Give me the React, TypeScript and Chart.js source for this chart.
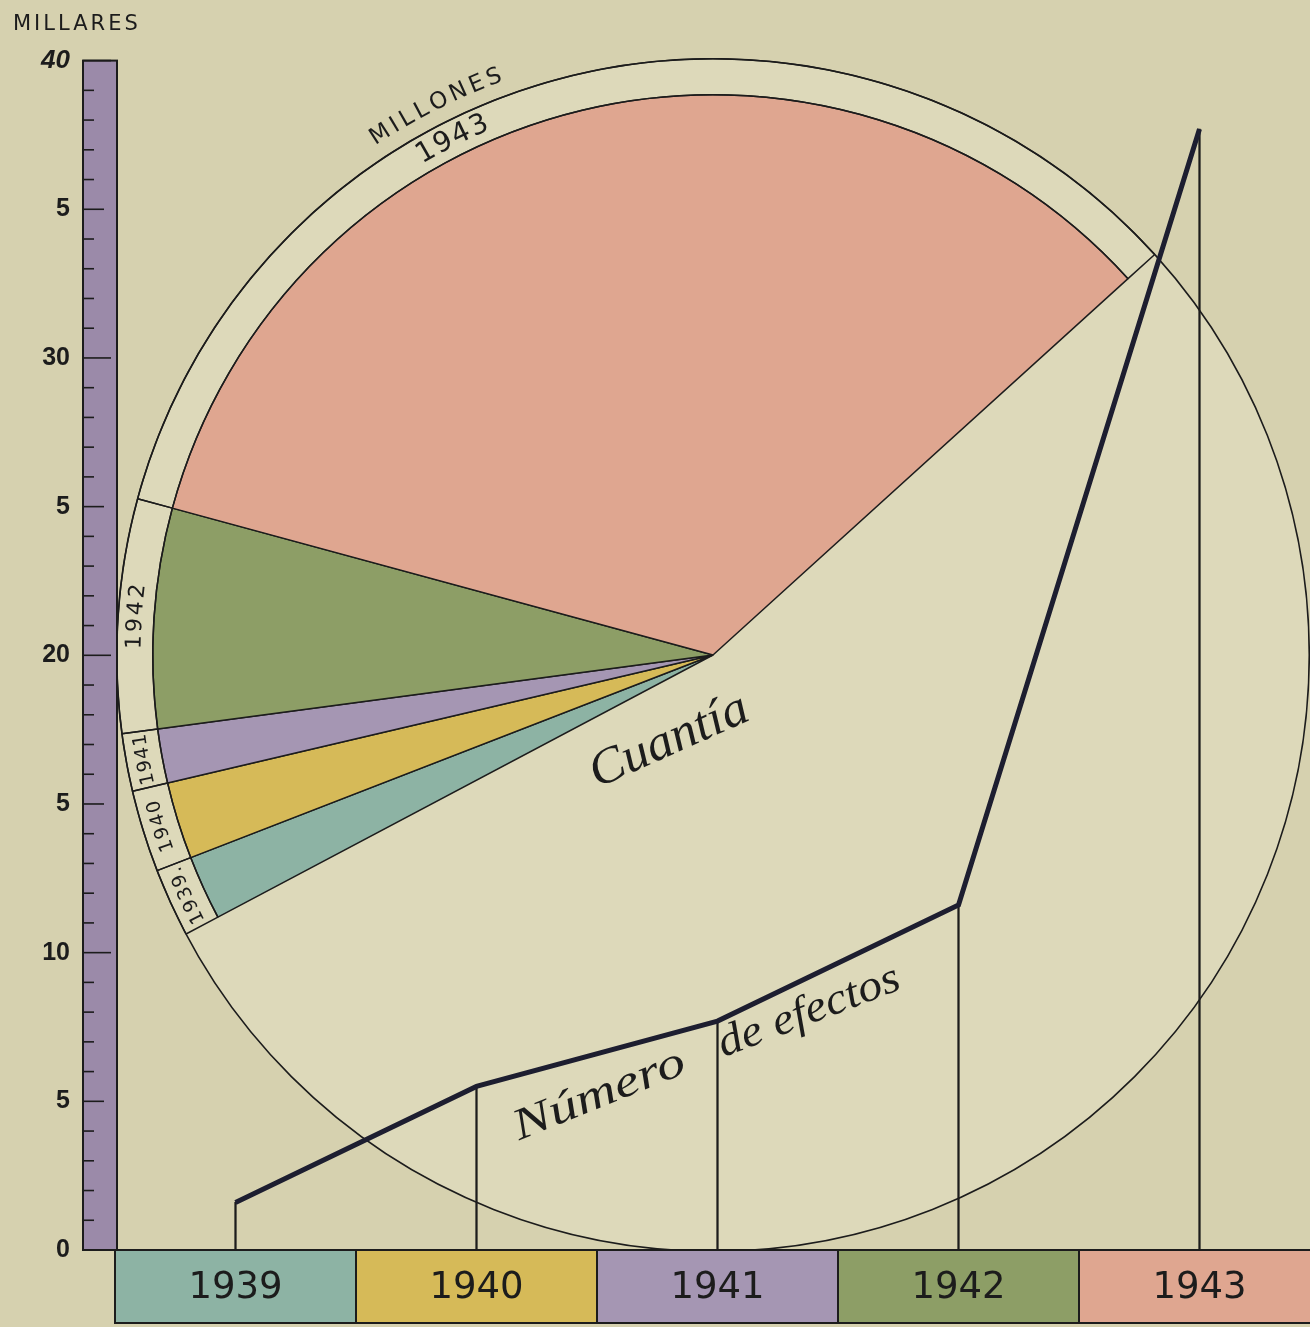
import React, { useEffect, useRef } from 'react';
import { Chart, registerables } from 'chart.js';

Chart.register(...registerables);

// ---- data ----
const years = ['1939', '1940', '1941', '1942', '1943'];
const numeroEfectos = [1.6, 5.5, 7.7, 11.6, 37.7]; // millares
const cuantia = [6.7, 8.0, 5.6, 22.8, 122.6]; // sector sizes (Cuantía, millones)
const cuantiaResto = 194.3;
const ringLabels = ['1939.', '1940', '1941', '1942', '1943'];
const yTicks = [0, 5, 10, 15, 20, 25, 30, 35, 40];
const yTickText = ['0', '5', '10', '5', '20', '5', '30', '5', '40'];

// ---- styles ----
const yearColors = ['#8db3a4', '#d6ba58', '#a596b3', '#8d9e66', '#dfa690'];
const PAPER = '#d6d1af';
const INK = '#1c1c1c';
const AXIS_PURPLE = '#9b8aa9';
const LINE_INK = '#1d1e30';
const ringFontSizes = [19, 19, 19, 22, 28];
const ringSpacing = [1.5, 1.5, 1, 3, 2];
const ringAngleShift = [0, 0, 0, 0, -13.3];

function arcText(ctx: CanvasRenderingContext2D, text: string, cx: number, cy: number, r: number, ang: number, font: string, spacing: number) {
  ctx.save();
  ctx.font = font;
  ctx.fillStyle = INK;
  ctx.textAlign = 'center';
  ctx.textBaseline = 'middle';
  const chars = Array.from(text);
  const widths = chars.map((ch) => ctx.measureText(ch).width);
  const total = widths.reduce((s, w) => s + w, 0) + spacing * (chars.length - 1);
  let a = ang - total / (2 * r);
  chars.forEach((ch, i) => {
    const ca = a + widths[i] / 2 / r;
    ctx.save();
    ctx.translate(cx + r * Math.cos(ca), cy + r * Math.sin(ca));
    ctx.rotate(ca + Math.PI / 2);
    ctx.fillText(ch, 0, 0);
    ctx.restore();
    a += (widths[i] + spacing) / r;
  });
  ctx.restore();
}

function scriptText(ctx: CanvasRenderingContext2D, text: string, x: number, y: number, deg: number, size: number, sx: number) {
  ctx.save();
  ctx.translate(x, y);
  ctx.rotate((deg * Math.PI) / 180);
  ctx.scale(sx, 1);
  ctx.font = `italic ${size}px "Liberation Serif"`;
  ctx.fillStyle = INK;
  ctx.textAlign = 'center';
  ctx.textBaseline = 'middle';
  ctx.fillText(text, 0, 0);
  ctx.restore();
}

const ringPlugin = {
  id: 'ringPlugin',
  beforeDatasetsDraw(chart: any) {
    const meta = chart.getDatasetMeta(0);
    const arc = meta.data[0];
    if (!arc) return;
    const p = arc.getProps(['x', 'y', 'outerRadius'], true);
    const ctx = chart.ctx;
    ctx.save();
    ctx.beginPath();
    ctx.arc(p.x, p.y, p.outerRadius, 0, Math.PI * 2);
    ctx.fillStyle = 'rgba(240,236,212,0.3)';
    ctx.fill();
    ctx.restore();
  },
  afterDatasetsDraw(chart: any) {
    const ctx = chart.ctx;
    const meta = chart.getDatasetMeta(0);
    let cx = 0, cy = 0, outer = 0, labelAng = 0;
    meta.data.forEach((arc: any, i: number) => {
      const p = arc.getProps(['x', 'y', 'startAngle', 'endAngle', 'innerRadius', 'outerRadius'], true);
      cx = p.x; cy = p.y; outer = p.outerRadius;
      if (i >= ringLabels.length) return;
      const mid = (p.startAngle + p.endAngle) / 2 + (ringAngleShift[i] * Math.PI) / 180;
      if (i === ringLabels.length - 1) labelAng = mid;
      arcText(ctx, ringLabels[i], p.x, p.y, (p.innerRadius + p.outerRadius) / 2, mid, `${ringFontSizes[i]}px "DejaVu Sans"`, ringSpacing[i]);
    });
    ctx.save();
    ctx.beginPath();
    ctx.arc(cx, cy, outer, 0, Math.PI * 2);
    ctx.strokeStyle = INK;
    ctx.lineWidth = 1.6;
    ctx.stroke();
    ctx.restore();
    arcText(ctx, 'MILLONES', cx, cy, outer + 21, labelAng, '23px "DejaVu Sans"', 4);
  },
};

const framePlugin = {
  id: 'framePlugin',
  beforeDraw(chart: any) {
    const { ctx, chartArea: a, scales } = chart;
    const x = scales.x;
    const y = scales.y;
    ctx.save();
    ctx.strokeStyle = INK;
    ctx.lineWidth = 2;
    const half = (x.getPixelForValue(1) - x.getPixelForValue(0)) / 2;
    years.forEach((_, i) => {
      const c = x.getPixelForValue(i);
      ctx.fillStyle = yearColors[i];
      ctx.fillRect(c - half, a.bottom, half * 2, x.bottom - a.bottom);
      ctx.strokeRect(c - half, a.bottom, half * 2, x.bottom - a.bottom);
    });
    const bl = a.left - 32;
    const bw = 34;
    ctx.fillStyle = AXIS_PURPLE;
    ctx.fillRect(bl, a.top, bw, a.bottom - a.top);
    ctx.strokeRect(bl, a.top, bw, a.bottom - a.top);
    ctx.lineWidth = 1.6;
    for (let v = 0; v <= 40; v++) {
      const py = y.getPixelForValue(v);
      const len = v % 10 === 0 ? 28 : v % 5 === 0 ? 21 : 11;
      ctx.beginPath();
      ctx.moveTo(bl, py);
      ctx.lineTo(bl + len, py);
      ctx.stroke();
    }
    ctx.lineWidth = 2;
    ctx.beginPath();
    ctx.moveTo(bl, a.bottom);
    ctx.lineTo(chart.width, a.bottom);
    ctx.stroke();
    ctx.restore();
  },
  afterDraw(chart: any) {
    const { ctx, chartArea: a, scales } = chart;
    const x = scales.x;
    const y = scales.y;
    ctx.save();
    ctx.font = '21px "DejaVu Sans"';
    (ctx as any).letterSpacing = '3px';
    ctx.fillStyle = INK;
    ctx.textAlign = 'left';
    ctx.textBaseline = 'middle';
    ctx.fillText('MILLARES', 13, a.top - 36);
    ctx.restore();
    scriptText(ctx, 'Cuantía', x.getPixelForValue(1.8), y.getPixelForValue(17.1), -24, 50, 1.05);
    scriptText(ctx, 'Número', x.getPixelForValue(1.51), y.getPixelForValue(5.2), -22, 44, 1.3);
    scriptText(ctx, 'de efectos', x.getPixelForValue(2.38), y.getPixelForValue(8.0), -21, 44, 1.1);
  },
};

export default function App() {
  const pieRef = useRef<HTMLCanvasElement>(null);
  const lineRef = useRef<HTMLCanvasElement>(null);

  useEffect(() => {
    const border = (w: number) => [...cuantia.map(() => w), 0];
    const pie = new Chart(pieRef.current as HTMLCanvasElement, {
      type: 'pie',
      data: {
        labels: [...years, ''],
        datasets: [
          {
            data: [...cuantia, cuantiaResto],
            backgroundColor: 'rgba(0,0,0,0)',
            borderColor: INK,
            borderWidth: border(1.5),
            weight: 36,
          } as any,
          {
            data: [...cuantia, cuantiaResto],
            backgroundColor: [...yearColors, 'rgba(0,0,0,0)'],
            borderColor: INK,
            borderWidth: border(1.5),
            weight: 560,
          } as any,
        ],
      },
      options: {
        responsive: false,
        animation: false,
        rotation: 242.1,
        events: [],
        layout: { padding: 0 },
        plugins: { legend: { display: false }, tooltip: { enabled: false } },
      },
      plugins: [ringPlugin],
    });

    const line = new Chart(lineRef.current as HTMLCanvasElement, {
      type: 'line',
      data: {
        labels: years,
        datasets: [
          {
            type: 'line',
            data: numeroEfectos,
            borderColor: LINE_INK,
            borderWidth: 5,
            pointRadius: 0,
            tension: 0,
            borderCapStyle: 'butt',
            borderJoinStyle: 'miter',
            order: 0,
          } as any,
          {
            type: 'bar',
            data: numeroEfectos,
            backgroundColor: INK,
            barThickness: 1.6,
            order: 1,
          } as any,
        ],
      },
      options: {
        responsive: false,
        animation: false,
        events: [],
        layout: { padding: { top: 58, bottom: 4, left: 0, right: 0 } },
        plugins: { legend: { display: false }, tooltip: { enabled: false } },
        scales: {
          x: {
            type: 'category',
            offset: true,
            grid: { display: false, drawTicks: false },
            border: { display: false },
            ticks: {
              padding: 16,
              color: INK,
              maxRotation: 0,
              autoSkip: false,
              font: { family: 'DejaVu Sans', size: 37 },
            },
            afterFit: (s: any) => { s.height = 73; },
          },
          y: {
            min: 0,
            max: 40,
            grid: { display: false, drawTicks: false },
            border: { display: false },
            afterBuildTicks: (s: any) => { s.ticks = yTicks.map((v) => ({ value: v })); },
            ticks: {
              padding: 45,
              color: INK,
              font: (c: any) => ({
                family: 'Liberation Sans',
                size: c.tick && c.tick.value === 40 ? 26 : 25,
                weight: 'bold',
                style: c.tick && c.tick.value === 40 ? 'italic' : 'normal',
              }),
              callback: (v: any) => {
                const i = yTicks.indexOf(Number(v));
                return i >= 0 ? yTickText[i] : '';
              },
            },
            afterFit: (s: any) => { s.width = 115; },
          },
        },
      } as any,
      plugins: [framePlugin],
    });

    return () => {
      pie.destroy();
      line.destroy();
    };
  }, []);

  return (
    <div style={{ position: 'absolute', left: 0, top: 0, width: 1310, height: 1327, overflow: 'hidden', background: PAPER }}>
      <canvas ref={pieRef} width={1194} height={1194} style={{ position: 'absolute', left: 116, top: 58, width: 1194, height: 1194 }} />
      <canvas ref={lineRef} width={1320} height={1327} style={{ position: 'absolute', left: 0, top: 0, width: 1320, height: 1327 }} />
    </div>
  );
}
